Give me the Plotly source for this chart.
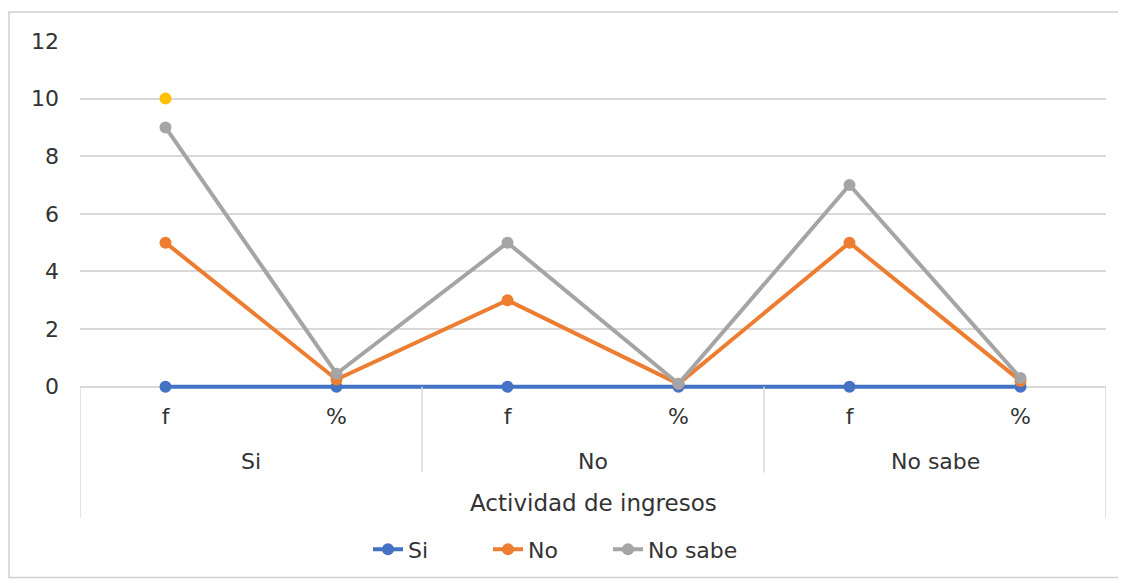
import plotly.graph_objects as go

groups = ["Si", "No", "No sabe"]
sub_labels = ["f", "%", "f", "%", "f", "%"]
x_pos = [0, 1, 2, 3, 4, 5]

si_vals = [0, 0, 0, 0, 0, 0]
no_vals = [5, 0.25, 3, 0.1, 5, 0.2]
nosabe_vals = [9, 0.45, 5, 0.1, 7, 0.3]
extra_x = [0]
extra_vals = [10]

y_ticks = [0, 2, 4, 6, 8, 10, 12]
axis_title = "Actividad de ingresos"

OFF = 8
W, H = 1126, 583
Y0, Y1 = 0, 12
YPAD = 0.15                            # small pad so the zero line is not clipped
unit = (387 - 41) / (Y1 - Y0)
PL, PR, PT = 80, 1106, 41
PB = 387 + YPAD * unit
L, T = PL - OFF, PT - OFF
R = W - (PR - OFF)
B = H - (PB - OFF)
pw = PR - PL
ph = PB - PT

def py(ypix):
    return 1 - (ypix - PT) / ph

def px(xpix):
    return (xpix - PL) / pw

font = "DejaVu Sans, Liberation Sans, Arial, sans-serif"
txt_col = "#333333"
fs = 22
fig = go.Figure()

series = [("Si", si_vals, "#4472C4"), ("No", no_vals, "#ED7D31"), ("No sabe", nosabe_vals, "#A5A5A5")]
for name, vals, col in series:
    fig.add_trace(go.Scatter(x=x_pos, y=vals, name=name, mode="lines+markers",
                             line=dict(color=col, width=4),
                             marker=dict(color=col, size=12), cliponaxis=False))
fig.add_trace(go.Scatter(x=extra_x, y=extra_vals, mode="markers", showlegend=False,
                         marker=dict(color="#FFC000", size=12), cliponaxis=False))
# empty spacer entry so the last legend label is not clipped
fig.add_trace(go.Scatter(x=[None], y=[None], name=" ", mode="lines",
                         line=dict(color="rgba(0,0,0,0)"), hoverinfo="skip"))

shapes = []
grid_col = "#D9D9D9"
for xs in [1.5, 3.5]:
    shapes.append(dict(type="line", xref="x", yref="paper", x0=xs, x1=xs, y0=py(387), y1=py(473),
                       line=dict(color=grid_col, width=1.5)))
for xs in [-0.5, 5.5]:
    shapes.append(dict(type="line", xref="x", yref="paper", x0=xs, x1=xs, y0=py(387), y1=py(518),
                       line=dict(color=grid_col, width=1.5)))
shapes.append(dict(type="rect", xref="paper", yref="paper", x0=px(9), x1=px(1140), y0=py(578), y1=py(12),
                   line=dict(color="#D0D0D0", width=1.5), layer="below"))

annotations = []
for i, g in enumerate(groups):
    annotations.append(dict(x=2 * i + 0.5, xref="x", y=py(462), yref="paper", text=g, showarrow=False,
                            font=dict(family=font, size=fs, color=txt_col), yanchor="middle"))
annotations.append(dict(x=2.5, xref="x", y=py(503), yref="paper", text=axis_title, showarrow=False,
                        font=dict(family=font, size=23, color=txt_col), yanchor="middle"))

fig.update_layout(
    width=W, height=H,
    margin=dict(l=L, r=R, t=T, b=B),
    plot_bgcolor="white", paper_bgcolor="white",
    font=dict(family=font, size=fs, color=txt_col),
    showlegend=True,
    legend=dict(orientation="h", x=px(368), xanchor="left", y=py(550), yanchor="middle",
                font=dict(family=font, size=fs, color=txt_col), tracegroupgap=0,
                entrywidth=75, entrywidthmode="pixels", bgcolor="rgba(0,0,0,0)"),
    xaxis=dict(range=[-0.5, 5.5], tickmode="array", tickvals=x_pos, ticktext=sub_labels,
               showgrid=False, zeroline=False, showline=False, ticks="",
               ticklabelstandoff=int(round(14 - YPAD * unit)),
               tickfont=dict(family=font, size=fs, color=txt_col), fixedrange=True),
    yaxis=dict(range=[Y0 - YPAD, Y1], tickmode="array", tickvals=y_ticks, showgrid=True, gridcolor=grid_col,
               gridwidth=1.5, zeroline=True, zerolinecolor=grid_col, zerolinewidth=1.5,
               showline=False, ticks="", ticklabelstandoff=20,
               tickfont=dict(family=font, size=fs, color=txt_col)),
    shapes=shapes, annotations=annotations,
)

fig.write_html("out.html")
